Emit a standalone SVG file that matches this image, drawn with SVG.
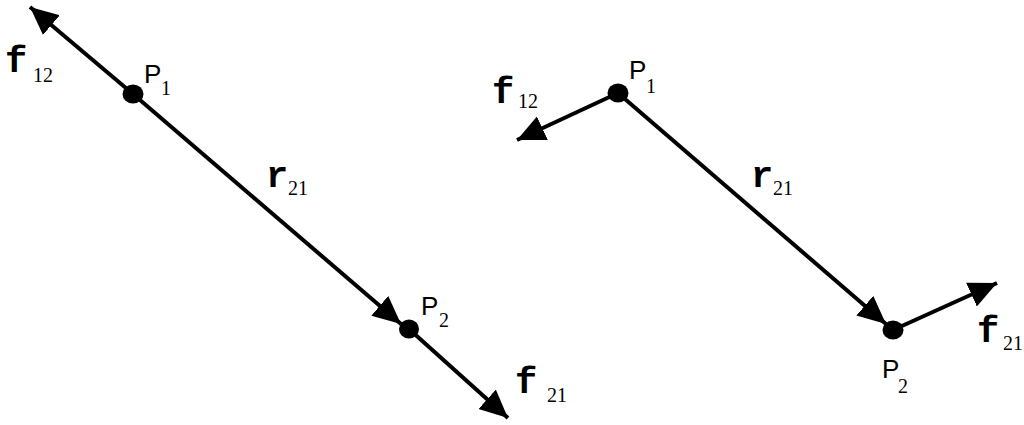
<svg xmlns="http://www.w3.org/2000/svg" width="1024" height="425" viewBox="0 0 1024 425">
<style>
.ln{stroke:#000;stroke-width:4;fill:none}
.vec{font-family:"Liberation Mono","Courier New",monospace;font-weight:bold;font-size:37px;fill:#000}
.sub{font-family:"Liberation Serif","Times New Roman",serif;font-size:20px;fill:#000}
.pt{font-family:"Liberation Sans",Arial,sans-serif;font-size:26px;fill:#000}
.dot{fill:#000}
</style>
<defs>
<marker id="ah" markerUnits="userSpaceOnUse" markerWidth="30" markerHeight="28" refX="28" refY="13" orient="auto">
<path d="M0,0 L28,13 L0,26 z" fill="#000"/>
</marker>
</defs>
<g id="connectors">
<line class="ln" x1="133" y1="94" x2="30" y2="7" marker-end="url(#ah)"/>
<line class="ln" x1="133" y1="94" x2="401" y2="324" marker-end="url(#ah)"/>
<line class="ln" x1="409" y1="329" x2="508" y2="418" marker-end="url(#ah)"/>
<line class="ln" x1="618" y1="93" x2="517" y2="140" marker-end="url(#ah)"/>
<line class="ln" x1="618" y1="93" x2="886" y2="324" marker-end="url(#ah)"/>
<line class="ln" x1="893" y1="330" x2="997" y2="283" marker-end="url(#ah)"/>
</g>
<g id="left-P1">
<ellipse class="dot" cx="133" cy="94" rx="10.5" ry="9.5"/>
<text class="pt" x="144" y="83">P</text><text class="sub" x="161" y="95">1</text>
</g>
<g id="left-P2">
<ellipse class="dot" cx="409" cy="329" rx="10" ry="9.5"/>
<text class="pt" x="421" y="315">P</text><text class="sub" x="439" y="327">2</text>
</g>
<g id="left-f12">
<text class="vec" x="5" y="72">f</text><text class="sub" x="33" y="82">12</text>
</g>
<g id="left-r21">
<text class="vec" x="266" y="187">r</text><text class="sub" x="288" y="195">21</text>
</g>
<g id="left-f21">
<text class="vec" x="515" y="393">f</text><text class="sub" x="547" y="402">21</text>
</g>
<g id="right-P1">
<ellipse class="dot" cx="618" cy="93" rx="10.5" ry="9.5"/>
<text class="pt" x="629" y="79">P</text><text class="sub" x="646" y="93">1</text>
</g>
<g id="right-P2">
<ellipse class="dot" cx="893" cy="330" rx="10.5" ry="9.5"/>
<text class="pt" x="882" y="378">P</text><text class="sub" x="898" y="393">2</text>
</g>
<g id="right-f12">
<text class="vec" x="492" y="103">f</text><text class="sub" x="518" y="108">12</text>
</g>
<g id="right-r21">
<text class="vec" x="751" y="187">r</text><text class="sub" x="773" y="195">21</text>
</g>
<g id="right-f21">
<text class="vec" x="977" y="342">f</text><text class="sub" x="1003" y="350">21</text>
</g>
</svg>
